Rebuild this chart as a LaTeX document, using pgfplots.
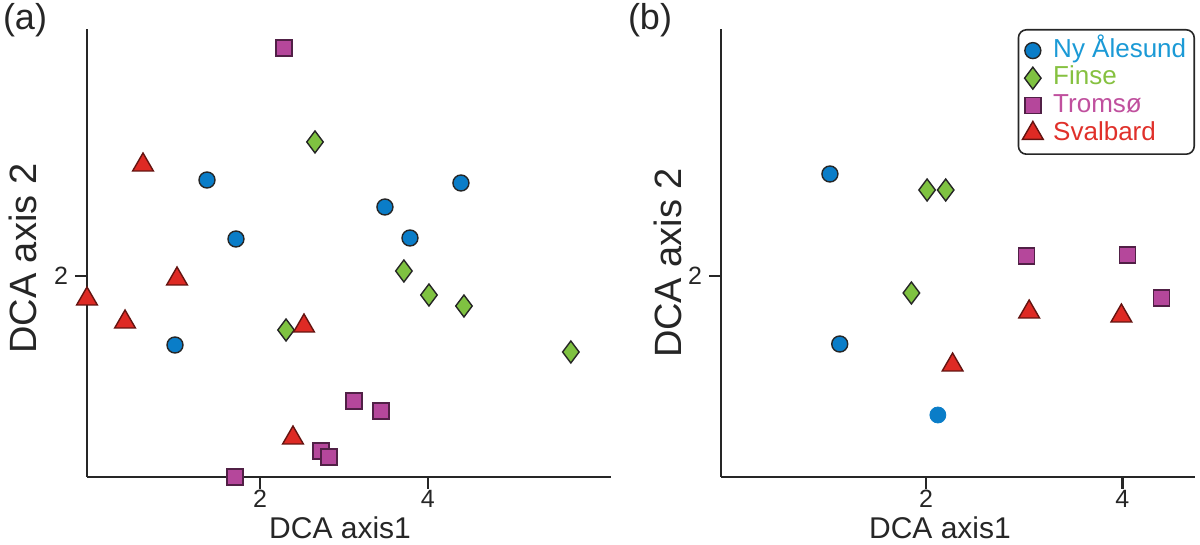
\documentclass[border=0pt]{standalone}
\usepackage{fontspec}
\setmainfont{Liberation Sans}
\newfontfamily\plainsans{Liberation Sans}
\usepackage{pgfplots}
\pgfplotsset{compat=1.18}
\definecolor{cblue}{HTML}{0A7DC8}
\definecolor{cgreen}{HTML}{7FC241}
\definecolor{cmag}{HTML}{B5479B}
\definecolor{cred}{HTML}{DE2A24}
\definecolor{tblue}{HTML}{1B9AD6}
\definecolor{tgreen}{HTML}{86C140}
\definecolor{tmag}{HTML}{C0509E}
\definecolor{tred}{HTML}{E0302A}
\pgfplotsset{
  dcastyle/.style={
    scale only axis,
    axis x line=bottom, axis y line=left,
    axis line style={line width=1.2pt, -, black!85},
    tick align=outside, major tick length=6pt,
    tick style={line width=1.2pt, black!85},
    xtick={2,4}, ytick={2},
    xticklabels={2,4}, yticklabels={2},
    ymin=-0.01, ymax=4.47,
    xticklabel style={font=\fontsize{12.5}{14}\selectfont, text=black!85, inner ysep=0.5pt},
    yticklabel style={font=\fontsize{12.5}{14}\selectfont, text=black!85},
    label style={text=black!85},
    clip=false,
  },
  sNy/.style={only marks, mark=*, mark size=4pt, mark options={fill=cblue, draw=black!85, line width=0.7pt}},
  sFi/.style={only marks, mark=diamond*, mark size=5.5pt, mark options={fill=cgreen, draw=black!85, line width=0.7pt}},
  sTr/.style={only marks, mark=square*, mark size=4pt, mark options={fill=cmag, draw=cmag!45!black, line width=0.7pt}},
  sSv/.style={only marks, mark=triangle*, mark size=6pt, mark options={fill=cred, draw=cred!45!black, line width=0.7pt}},
}
\begin{document}
\begin{tikzpicture}
% panel (a)
\begin{axis}[dcastyle,
  at={(43.5pt,34pt)}, anchor=south west,
  width=262pt, height=224pt,
  xmin=-0.06, xmax=6.18,
  xlabel={DCA axis1}, ylabel={DCA axis 2},
  xlabel style={font=\fontsize{15}{17}\selectfont, at={(axis description cs:0.483,0)}, anchor=center, yshift=-25.3pt, inner ysep=1pt},
  ylabel style={font=\fontsize{19}{21}\selectfont, at={(axis description cs:-0.122,0.487)}, anchor=center, rotate=0},
]
\addplot[sNy] coordinates {(1.369,2.96) (1.714,2.37) (0.988,1.31) (3.488,2.69) (3.786,2.38) (4.393,2.93)};
\addplot[sFi] coordinates {(2.655,3.34) (3.714,2.05) (4.012,1.81) (4.429,1.70) (2.310,1.46) (5.702,1.24)};
\addplot[sTr] coordinates {(2.286,4.28) (3.119,0.75) (3.440,0.65) (2.726,0.25) (2.821,0.19) (1.702,-0.01)};
\addplot[sSv] coordinates {(0.607,3.11) (1.012,1.97) (-0.06,1.77) (0.393,1.54) (2.524,1.50) (2.393,0.38)};
\end{axis}
% panel (b)
\begin{axis}[dcastyle,
  at={(360.5pt,34pt)}, anchor=south west,
  width=237pt, height=224pt,
  xmin=-0.09, xmax=4.74,
  xlabel={DCA axis1}, ylabel={DCA axis 2},
  xlabel style={font=\fontsize{15}{17}\selectfont, at={(axis description cs:0.462,0)}, anchor=center, yshift=-25.3pt, inner ysep=1pt},
  ylabel style={font=\fontsize{19}{21}\selectfont, at={(axis description cs:-0.112,0.478)}, anchor=center},
  legend style={at={(1,1)}, anchor=north east, draw=black!85, line width=0.8pt,
    rounded corners=4pt, font=\fontsize{13}{15}\selectfont, row sep=0pt, column sep=3pt,
    inner xsep=2pt, inner ysep=3.5pt,
    nodes={inner ysep=0.5pt, text height=9.8pt, text depth=3pt}},
  legend cell align=left,
]
\addplot[sNy] coordinates {(1.02,3.02) (1.12,1.32)};
\addlegendentry{\textcolor{tblue}{Ny Ålesund}}
\addplot[sFi] coordinates {(2.01,2.86) (2.20,2.86) (1.85,1.83)};
\addlegendentry{\textcolor{tgreen}{Finse}}
\addplot[sTr] coordinates {(3.02,2.20) (4.05,2.21) (4.40,1.78)};
\addlegendentry{\textcolor{tmag}{Tromsø}}
\addplot[sSv] coordinates {(3.05,1.64) (3.99,1.60) (2.27,1.11)};
\addlegendentry{\textcolor{tred}{Svalbard}}
\addplot[only marks, mark=*, mark size=4pt, mark options={fill=cblue, draw=cblue}, forget plot] coordinates {(2.12,0.61)};
\end{axis}
\node[font=\plainsans\fontsize{18}{20}\selectfont, text=black!85] at (12.5pt,262.5pt) {(a)};
\node[font=\plainsans\fontsize{18}{20}\selectfont, text=black!85] at (325pt,262.5pt) {(b)};
\pgfresetboundingbox
\useasboundingbox (0,0) rectangle (600pt,272.5pt);
\end{tikzpicture}
\end{document}
